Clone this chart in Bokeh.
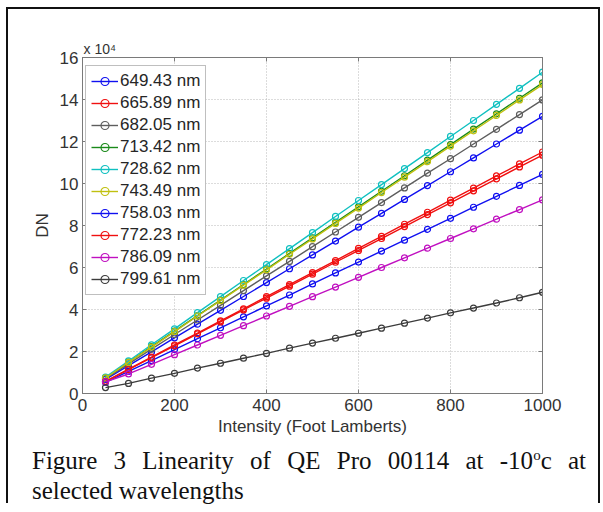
from bokeh.plotting import figure
from bokeh.layouts import column
from bokeh.models import Range1d, LinearAxis, Legend, LegendItem, FixedTicker, Div
from bokeh.embed import file_html
from bokeh.resources import INLINE

# ---------------- data (DN in units of 10^4) ----------------
intensity = [50, 100, 150, 200, 250, 300, 350, 400, 450, 500,
             550, 600, 650, 700, 750, 800, 850, 900, 950, 1000]

series_names = ["649.43 nm", "665.89 nm", "682.05 nm", "713.42 nm", "728.62 nm",
                "743.49 nm", "758.03 nm", "772.23 nm", "786.09 nm", "799.61 nm"]
series_colors = ["#1010f0", "#f01010", "#5e5e5e", "#1a8a1a", "#10c0c0",
                 "#c0c010", "#1010f0", "#f01010", "#c010c0", "#3c3c3c"]

dn_649 = [0.67, 1.33, 1.98, 2.65, 3.30, 3.96, 4.62, 5.28, 5.94, 6.60,
          7.26, 7.92, 8.58, 9.24, 9.90, 10.56, 11.22, 11.88, 12.54, 13.20]
dn_665 = [0.58, 1.16, 1.73, 2.31, 2.88, 3.46, 4.03, 4.61, 5.18, 5.76,
          6.33, 6.91, 7.48, 8.06, 8.63, 9.21, 9.78, 10.36, 10.93, 11.50]
dn_682 = [0.71, 1.41, 2.11, 2.81, 3.50, 4.20, 4.90, 5.60, 6.29, 6.99,
          7.69, 8.39, 9.09, 9.79, 10.49, 11.18, 11.88, 12.58, 13.28, 13.98]
dn_713 = [0.75, 1.49, 2.23, 2.97, 3.71, 4.45, 5.19, 5.93, 6.67, 7.41,
          8.15, 8.89, 9.63, 10.37, 11.11, 11.85, 12.59, 13.32, 14.06, 14.79]
dn_728 = [0.78, 1.55, 2.32, 3.08, 3.85, 4.61, 5.38, 6.14, 6.90, 7.66,
          8.43, 9.19, 9.95, 10.71, 11.47, 12.24, 13.00, 13.77, 14.53, 15.30]
dn_743 = [0.74, 1.48, 2.21, 2.95, 3.69, 4.42, 5.16, 5.89, 6.63, 7.36,
          8.10, 8.83, 9.57, 10.30, 11.04, 11.78, 12.51, 13.24, 13.98, 14.71]
dn_758 = [0.53, 1.05, 1.57, 2.09, 2.61, 3.13, 3.65, 4.17, 4.69, 5.22,
          5.74, 6.26, 6.78, 7.30, 7.82, 8.34, 8.87, 9.39, 9.91, 10.43]
dn_772 = [0.57, 1.14, 1.71, 2.27, 2.84, 3.41, 3.98, 4.54, 5.11, 5.68,
          6.25, 6.81, 7.38, 7.95, 8.52, 9.08, 9.65, 10.22, 10.79, 11.35]
dn_786 = [0.55, 0.93, 1.39, 1.85, 2.31, 2.77, 3.23, 3.69, 4.15, 4.61,
          5.07, 5.53, 6.00, 6.46, 6.92, 7.38, 7.84, 8.30, 8.76, 9.22]
dn_799 = [0.28, 0.48, 0.73, 0.96, 1.21, 1.44, 1.68, 1.91, 2.16, 2.40,
          2.63, 2.87, 3.11, 3.35, 3.59, 3.84, 4.07, 4.31, 4.56, 4.82]

series_values = [dn_649, dn_665, dn_682, dn_713, dn_728,
                 dn_743, dn_758, dn_772, dn_786, dn_799]

x_ticks = [0, 200, 400, 600, 800, 1000]
y_ticks = [0, 2, 4, 6, 8, 10, 12, 14, 16]
exponent_text = "x 10\u2074"

caption_line1_before = "Figure 3 Linearity of QE Pro 00114 at -10"
caption_sup = "o"
caption_line1_after = "c at"
caption_line2 = "selected wavelengths"

SANS = "Liberation Sans"
SERIF = "Liberation Serif"
W = 580

# ---------------- chart ----------------
p = figure(width=W, height=432, output_backend="svg", toolbar_location=None,
           x_range=Range1d(0, 1000), y_range=Range1d(0, 16),
           min_border_left=74, min_border_right=46, min_border_top=48, min_border_bottom=48,
           background_fill_color="white", border_fill_color="white",
           outline_line_color="#7a7a7a", outline_line_width=1,
           title=exponent_text)
p.title.text_font = SANS
p.title.text_font_size = "14px"
p.title.text_font_style = "normal"
p.title.text_color = "#333333"
p.title.align = "left"
p.title.offset = 1
p.title.standoff = 2

for ax in (p.xaxis[0], p.yaxis[0]):
    ax.axis_line_color = "#7a7a7a"
    ax.major_tick_line_color = "#7a7a7a"
    ax.major_tick_in = 4
    ax.major_tick_out = 0
    ax.minor_tick_line_color = None
    ax.major_label_text_font = SANS
    ax.major_label_text_font_size = "17px"
    ax.major_label_text_color = "#333333"
    ax.axis_label_text_font = SANS
    ax.axis_label_text_font_size = "17px"
    ax.axis_label_text_font_style = "normal"
    ax.axis_label_text_color = "#333333"

p.xaxis.ticker = FixedTicker(ticks=x_ticks)
p.yaxis.ticker = FixedTicker(ticks=y_ticks)
p.xaxis.axis_label = "Intensity (Foot Lamberts)"
p.yaxis.axis_label = "DN"
p.xaxis.major_label_standoff = 5
p.yaxis.major_label_standoff = 4
p.xaxis.axis_label_standoff = 3
p.yaxis.axis_label_standoff = 5

for loc in ("above", "right"):
    ax = LinearAxis(ticker=FixedTicker(ticks=x_ticks if loc == "above" else y_ticks),
                    axis_line_color="#7a7a7a", major_tick_line_color="#7a7a7a",
                    major_tick_in=4, major_tick_out=0, minor_tick_line_color=None,
                    major_label_text_font_size="1px", major_label_text_color=None,
                    major_label_standoff=0)
    p.add_layout(ax, loc)

p.xgrid.ticker = FixedTicker(ticks=x_ticks)
p.ygrid.ticker = FixedTicker(ticks=y_ticks)
for g in (p.xgrid[0], p.ygrid[0]):
    g.grid_line_color = "#b8b8b8"
    g.grid_line_dash = "1 2"
    g.grid_line_width = 1

items = []
for name, color, vals in zip(series_names, series_colors, series_values):
    r1 = p.line(intensity, vals, line_color=color, line_width=1.4)
    r2 = p.scatter(intensity, vals, marker="circle", size=6, line_color=color,
                   line_width=1.2, fill_alpha=0)
    items.append(LegendItem(label=name, renderers=[r1, r2]))

legend = Legend(items=items, location=(3, 98), margin=0, padding=5, spacing=2,
                label_height=20, glyph_height=20, glyph_width=27, label_standoff=2,
                label_text_font=SANS, label_text_font_size="17px", label_text_color="#262626",
                border_line_color="#808080", border_line_width=1,
                background_fill_color="white", background_fill_alpha=1)
p.add_layout(legend)

# ---------------- caption (justified, as in the paper) ----------------
font_css = f"font-family:'{SERIF}';font-size:25px;line-height:30px;color:#111111;"
caption_html = (
    f'<div style="width:554px;margin-left:19px;{font_css}">'
    f'<div style="text-align:justify;text-align-last:justify;white-space:nowrap;">'
    f'{caption_line1_before}<span style="font-size:15px;vertical-align:9px;line-height:0;">'
    f'{caption_sup}</span>{caption_line1_after}</div>'
    f'<div>{caption_line2}</div></div>'
)
cap = Div(text=caption_html, width=W, height=52)

layout = column(p, cap, spacing=0)
layout.margin = (7, 0, 0, 6)
layout.styles = {"border-top": "2px solid #111111", "border-left": "2px solid #111111",
                 "border-right": "2px solid #111111"}

open("out.html", "w").write(file_html(layout, INLINE))
